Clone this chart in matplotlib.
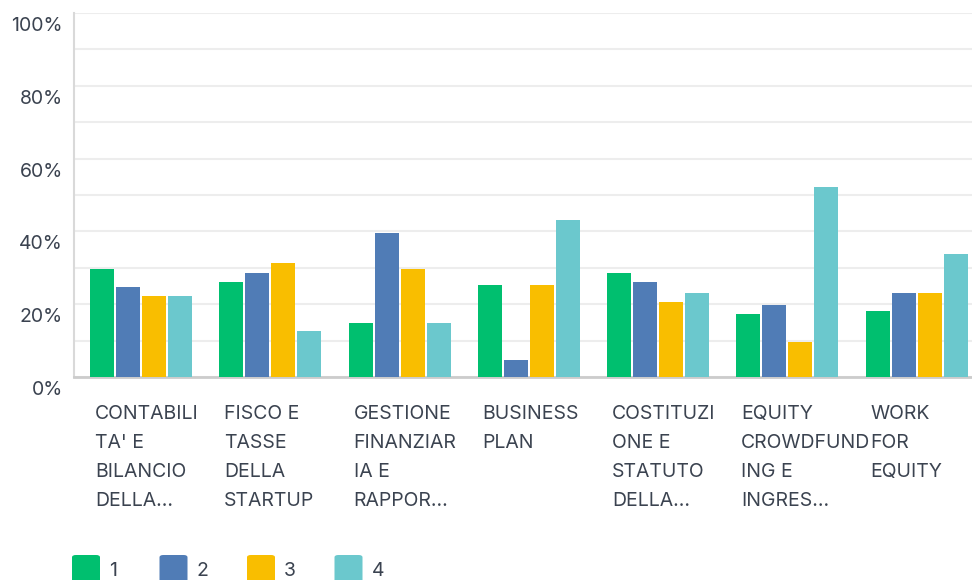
import matplotlib
matplotlib.use("Agg")
import matplotlib.pyplot as plt
import numpy as np
from matplotlib.transforms import ScaledTranslation, blended_transform_factory
from matplotlib.patches import FancyBboxPatch

categories = [
    "CONTABILI\nTA' E\nBILANCIO\nDELLA...",
    "FISCO E\nTASSE\nDELLA\nSTARTUP",
    "GESTIONE\nFINANZIAR\nIA E\nRAPPOR...",
    "BUSINESS\nPLAN",
    "COSTITUZI\nONE E\nSTATUTO\nDELLA...",
    "EQUITY\nCROWDFUND\nING E\nINGRES...",
    "WORK\nFOR\nEQUITY",
]
series_names = ["1", "2", "3", "4"]
s1 = [29.6, 26.1, 14.8, 25.2, 28.5, 17.2, 18.1]
s2 = [24.7, 28.5, 39.5, 4.6, 26.1, 19.7, 23.0]
s3 = [22.2, 31.3, 29.6, 25.2, 20.6, 9.5, 23.0]
s4 = [22.2, 12.6, 14.8, 43.1, 23.0, 52.2, 33.8]
colors = ["#00BF6F", "#507CB6", "#F9BE00", "#6BC8CD"]
yticks = [0, 20, 40, 60, 80, 100]
ytick_labels = ["0%", "20%", "40%", "60%", "80%", "100%"]

series = [s1, s2, s3, s4]
plt.rcParams['font.family'] = ['Inter', 'DejaVu Sans']
text_color = "#3b4350"

W, H = 972, 580
fig = plt.figure(figsize=(W/100, H/100), dpi=100)
ax_left, ax_right, ax_top, ax_bot = 74, 972, 13, 377
ax = fig.add_axes([ax_left/W, 1 - ax_bot/H, (ax_right-ax_left)/W, (ax_bot-ax_top)/H])

x = np.arange(len(categories))
step = 1 / 129.25  # group units per pixel
bw = 24 * step
pitch = 26 * step
offsets = (np.arange(4) - 1.5) * pitch
for i, (vals, c) in enumerate(zip(series, colors)):
    ax.bar(x + offsets[i], vals, width=bw, color=c, zorder=3, linewidth=0)

ax.set_xlim(-67 * step, 6 + 55.5 * step)
ax.set_ylim(0, 100)
ax.set_yticks(yticks)
ax.set_yticklabels(ytick_labels)
ax.set_yticks(np.arange(10, 100, 20), minor=True)
ax.grid(axis='y', which='both', color="#ededed", linewidth=1.5, zorder=0)
ax.tick_params(axis='y', which='both', length=0, pad=8, labelsize=14, labelcolor=text_color)
ax.set_xticks([])
for lbl in ax.get_yticklabels():
    lbl.set_transform(lbl.get_transform() + ScaledTranslation(0, -11/100, fig.dpi_scale_trans))

for sp in ["top", "right"]:
    ax.spines[sp].set_visible(False)
ax.spines["left"].set_color("#d9d9d9")
ax.spines["left"].set_linewidth(1.5)
ax.spines["bottom"].set_color("#cccccc")
ax.spines["bottom"].set_linewidth(2)

trans = blended_transform_factory(ax.transData, ax.transAxes)
for i, cat in enumerate(categories):
    t = trans + ScaledTranslation(-46/100, -28/100, fig.dpi_scale_trans)
    ax.text(i, 0, cat, transform=t, ha='left', va='top', fontsize=14,
            color=text_color, linespacing=1.79)

# legend
for i, (name, c) in enumerate(zip(series_names, colors)):
    x0 = 72 + 87.5 * i
    y0 = 555
    p = FancyBboxPatch((x0/W, 1 - (y0 + 30)/H), 28/W, 30/H,
                       boxstyle="round,pad=0,rounding_size=0.004",
                       transform=fig.transFigure, facecolor=c, edgecolor='none')
    fig.patches.append(p)
    fig.text((x0 + 37)/W, 1 - 571/H, name, ha='left', va='center',
             fontsize=14, color=text_color)

fig.savefig("out.png", dpi=100)
